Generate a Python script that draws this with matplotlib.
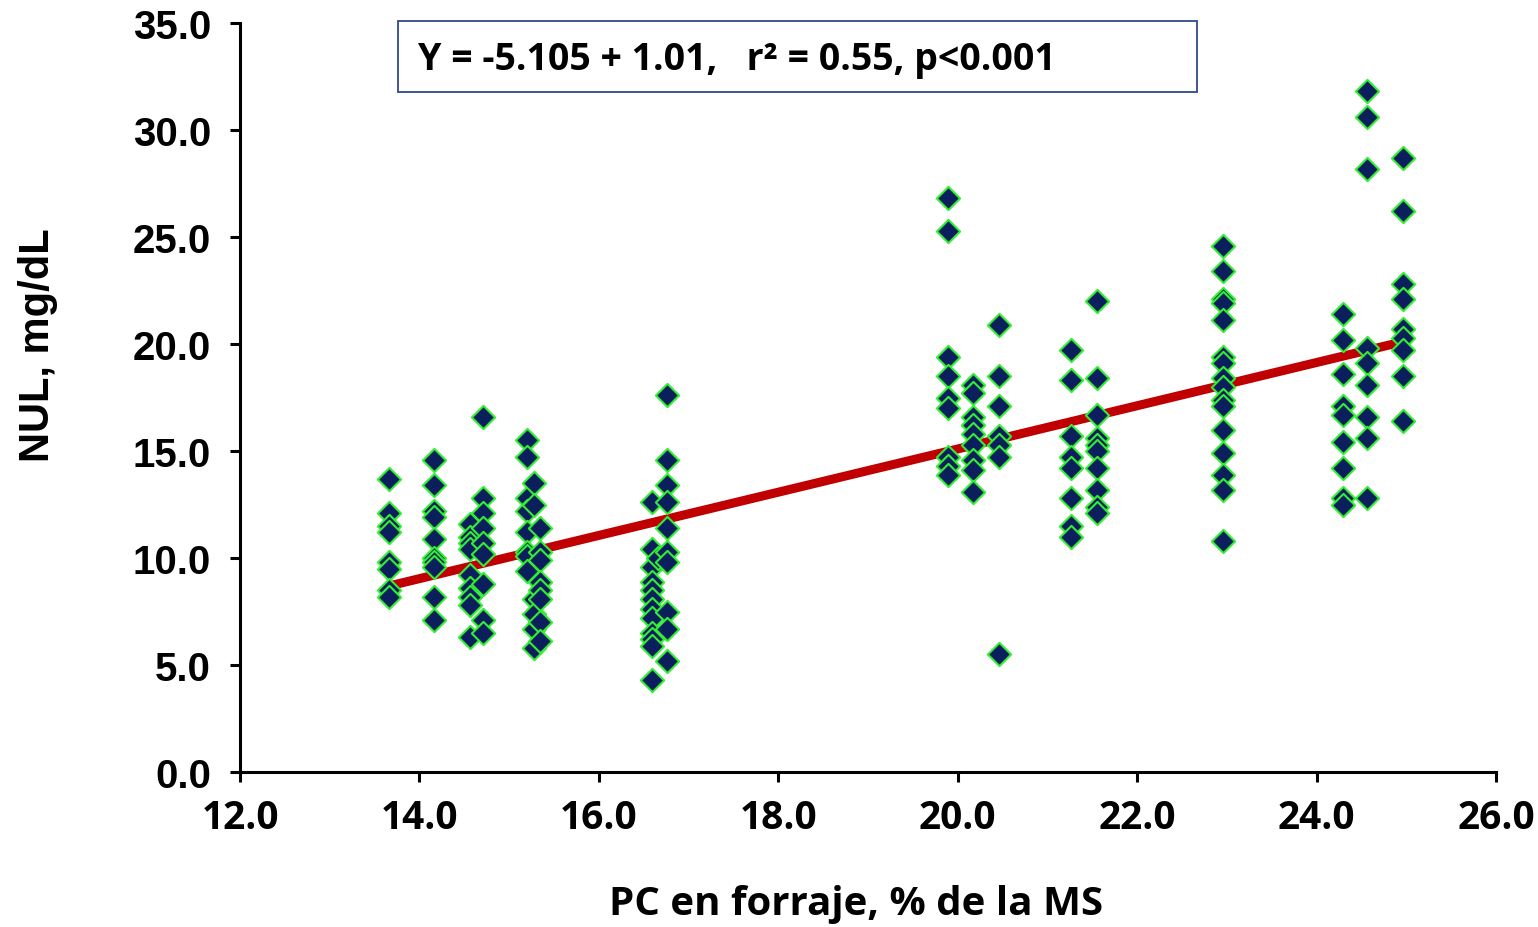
import numpy as np
import matplotlib
matplotlib.use("Agg")
import matplotlib.pyplot as plt
from matplotlib.patches import Rectangle

# Crude protein levels in forage (% DM) and milk urea nitrogen readings per level
pc_levels = [13.66, 14.16, 14.56, 14.71, 15.20, 15.28, 15.34, 16.59, 16.66, 16.76,
             19.89, 20.17, 20.46, 21.26, 21.55, 22.96, 24.30, 24.56, 24.96]
nul_values = [
    [13.7, 12.1, 11.5, 11.2, 9.8, 9.5, 8.5, 8.2],
    [14.6, 13.4, 12.2, 11.9, 10.9, 10.0, 9.8, 9.6, 8.2, 7.1],
    [11.6, 11.0, 10.7, 10.4, 9.2, 8.6, 8.2, 7.8, 6.3],
    [16.6, 12.8, 12.1, 11.4, 10.7, 10.2, 8.8, 7.1, 6.5],
    [15.5, 14.7, 12.8, 12.2, 11.2, 10.3, 10.1, 9.4],
    [13.5, 12.5, 8.1, 7.4, 6.7, 5.8],
    [11.4, 10.3, 9.9, 8.9, 8.5, 8.1, 7.0, 6.1],
    [12.6, 10.4, 9.6, 8.9, 8.5, 8.1, 7.6, 7.2, 6.5, 6.2, 5.9, 4.3],
    [10.0],
    [17.6, 14.6, 13.4, 12.6, 11.4, 10.3, 9.8, 7.5, 6.7, 5.2],
    [26.8, 25.3, 19.4, 18.5, 17.5, 17.0, 14.7, 14.3, 13.9],
    [18.1, 17.7, 16.6, 16.2, 15.8, 15.3, 14.6, 14.1, 13.1],
    [20.9, 18.5, 17.1, 15.7, 15.3, 14.7, 5.5],
    [19.7, 18.3, 15.7, 14.7, 14.2, 12.8, 11.5, 11.0],
    [22.0, 18.4, 16.7, 15.6, 15.3, 15.0, 14.2, 13.2, 12.4, 12.1],
    [24.6, 23.4, 22.1, 21.9, 21.1, 19.4, 19.1, 18.4, 18.0, 17.4, 17.1, 16.0, 14.9, 13.9, 13.2, 10.8],
    [21.4, 20.2, 18.6, 17.1, 16.7, 15.4, 14.2, 12.8, 12.5],
    [31.8, 30.6, 28.2, 19.8, 19.1, 18.1, 16.6, 15.6, 12.8],
    [28.7, 26.2, 22.8, 22.1, 20.7, 20.3, 19.7, 18.5, 16.4],
]

# Regression line: Y = -5.105 + 1.01 X
intercept = -5.105
slope = 1.01

x_ticks = [12.0, 14.0, 16.0, 18.0, 20.0, 22.0, 24.0, 26.0]
y_ticks = [0.0, 5.0, 10.0, 15.0, 20.0, 25.0, 30.0, 35.0]

x_pts = np.concatenate([[x] * len(v) for x, v in zip(pc_levels, nul_values)])
y_pts = np.concatenate([np.array(v, dtype=float) for v in nul_values])

W, H = 1538, 928
fig = plt.figure(figsize=(W / 100, H / 100), dpi=100)
ax = fig.add_axes([240 / W, 1 - 773 / H, (1496 - 240) / W, (773 - 24) / H])

ax.scatter(x_pts, y_pts, marker="D", s=140, facecolor="#0B1F5C",
           edgecolor="#33EE33", linewidth=1.5, zorder=3)

x_line = np.array([min(pc_levels), max(pc_levels)])
ax.plot(x_line, intercept + slope * x_line, color="#C00000", lw=6.5,
        solid_capstyle="butt", zorder=2)

ax.set_xlim(12, 26)
ax.set_ylim(0, 35)
ax.set_xticks(x_ticks)
ax.set_yticks(y_ticks)
ax.set_xticklabels([f"{t:.1f}" for t in x_ticks], fontfamily="Open Sans",
                   fontweight="bold", fontsize=28)
ax.set_yticklabels([f"{t:.1f}" for t in y_ticks], fontfamily="Liberation Sans",
                   fontweight="bold", fontsize=29)

for side in ("top", "right"):
    ax.spines[side].set_visible(False)
for side in ("left", "bottom"):
    ax.spines[side].set_linewidth(2.2)
    ax.spines[side].set_color("black")
ax.tick_params(axis="both", direction="out", length=7, width=2.2, colors="black")
ax.tick_params(axis="x", pad=12)
ax.tick_params(axis="y", pad=14)

ax.set_xlabel("PC en forraje, % de la MS", fontfamily="Open Sans",
              fontweight="bold", fontsize=29)
ax.xaxis.set_label_coords((856 - 240) / 1256, -(885 - 773) / 749)
ax.set_ylabel("NUL, mg/dL", fontfamily="Liberation Sans",
              fontweight="bold", fontsize=30)
ax.yaxis.set_label_coords((58 - 240) / 1256, (773 - 345) / 749)

# Equation box
fig.add_artist(Rectangle((398 / W, 1 - 93 / H), (1197 - 398) / W, (93 - 22) / H,
                         transform=fig.transFigure, facecolor="white",
                         edgecolor="#2E4A8A", linewidth=1.3, zorder=5))
fig.text(418 / W, 1 - 60 / H, "Y = -5.105 + 1.01,   r² = 0.55, p<0.001",
         fontfamily="Open Sans", fontweight="bold", fontsize=27,
         ha="left", va="center", zorder=6)

fig.savefig("out.png", dpi=100)
